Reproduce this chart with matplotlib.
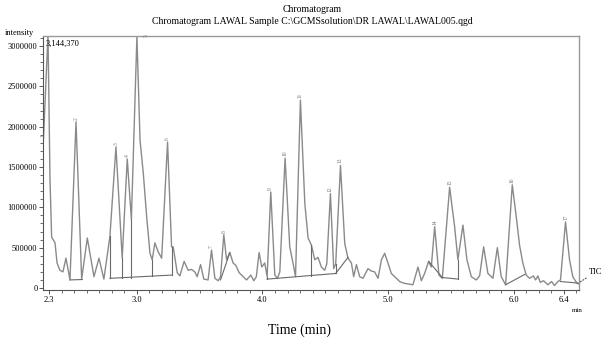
import matplotlib
matplotlib.use("Agg")
import matplotlib.pyplot as plt
from matplotlib.ticker import MultipleLocator, FixedLocator
import numpy as np

plt.rcParams['font.family'] = ['Liberation Serif', 'DejaVu Serif']

# TIC trace: retention time (min) and intensity
time_min = [2.256, 2.292, 2.308, 2.321, 2.348, 2.364, 2.387, 2.411, 2.435, 2.467,
            2.515, 2.560, 2.605, 2.658, 2.698, 2.737, 2.785, 2.833, 2.883, 2.923,
            2.956, 3.000, 3.025, 3.051, 3.078, 3.104, 3.122, 3.143, 3.169, 3.197,
            3.244, 3.276, 3.289, 3.321, 3.342, 3.376, 3.408, 3.435, 3.461, 3.480,
            3.507, 3.533, 3.567, 3.594, 3.621, 3.647, 3.666, 3.692, 3.714, 3.740,
            3.766, 3.788, 3.814, 3.846, 3.873, 3.907, 3.931, 3.951, 3.973, 3.994,
            4.018, 4.037, 4.066, 4.098, 4.119, 4.138, 4.180, 4.217, 4.243, 4.263,
            4.302, 4.337, 4.363, 4.390, 4.416, 4.442, 4.469, 4.496, 4.512, 4.541,
            4.567, 4.583, 4.621, 4.655, 4.681, 4.708, 4.726, 4.748, 4.774, 4.800,
            4.840, 4.867, 4.893, 4.920, 4.947, 4.973, 4.999, 5.026, 5.053, 5.092,
            5.124, 5.158, 5.198, 5.238, 5.265, 5.291, 5.323, 5.344, 5.371, 5.405,
            5.432, 5.490, 5.530, 5.556, 5.596, 5.628, 5.663, 5.702, 5.729, 5.761,
            5.795, 5.835, 5.870, 5.901, 5.936, 5.989, 6.021, 6.047, 6.073, 6.100,
            6.127, 6.158, 6.174, 6.193, 6.212, 6.238, 6.272, 6.302, 6.325, 6.352,
            6.373, 6.413, 6.445, 6.471, 6.503, 6.519]
intensity = [1850000, 3144370, 1340000, 630000, 560000, 310000, 220000, 200000, 370000, 100000,
             2060000, 110000, 620000, 140000, 370000, 110000, 640000, 1750000, 370000, 1600000,
             850000, 3120000, 1830000, 1420000, 880000, 430000, 350000, 560000, 450000, 370000,
             1810000, 510000, 510000, 190000, 150000, 330000, 220000, 230000, 200000, 140000,
             290000, 110000, 100000, 470000, 120000, 90000, 140000, 660000, 350000, 440000,
             310000, 280000, 190000, 140000, 100000, 160000, 90000, 140000, 440000, 260000,
             310000, 140000, 1190000, 160000, 120000, 200000, 1610000, 510000, 310000, 140000,
             2330000, 1050000, 620000, 530000, 350000, 380000, 260000, 220000, 300000, 1170000,
             240000, 300000, 1520000, 550000, 370000, 310000, 140000, 290000, 140000, 120000,
             240000, 210000, 200000, 120000, 350000, 430000, 310000, 180000, 140000, 80000,
             60000, 50000, 40000, 260000, 90000, 180000, 330000, 260000, 760000, 160000,
             120000, 1250000, 760000, 350000, 780000, 350000, 140000, 100000, 150000, 510000,
             180000, 120000, 500000, 140000, 40000, 1280000, 880000, 530000, 310000, 160000,
             120000, 150000, 100000, 150000, 70000, 90000, 40000, 80000, 30000, 80000,
             100000, 820000, 350000, 140000, 60000, 50000]

# Peak numbers and their apex positions
peak_ids = [str(i) for i in range(1, 18)]
peak_time = [2.256, 2.515, 2.833, 2.923, 3.000, 3.244, 3.594, 3.692, 4.066, 4.180,
             4.302, 4.541, 4.621, 5.371, 5.490, 5.989, 6.413]
peak_height = [1850000, 2060000, 1750000, 1600000, 3125000, 1810000, 470000, 660000, 1190000, 1610000,
               2330000, 1170000, 1520000, 760000, 1250000, 1280000, 820000]

# Integration baselines (start/end time, start/end intensity)
base_t0 = [2.467, 2.785, 3.666, 4.037, 4.583, 5.323, 5.432, 5.936, 6.373]
base_t1 = [2.565, 3.276, 3.740, 4.583, 4.681, 5.432, 5.560, 6.090, 6.519]
base_i0 = [100000, 120000, 100000, 110000, 180000, 330000, 130000, 40000, 80000]
base_i1 = [105000, 160000, 440000, 180000, 380000, 130000, 110000, 170000, 60000]

# Drop lines (time, top intensity, bottom intensity)
drop_t = [2.785, 2.883, 2.956, 3.117, 3.276, 4.037, 4.119, 4.263, 4.390, 4.583, 5.560]
drop_top = [640000, 370000, 850000, 350000, 510000, 140000, 120000, 140000, 530000, 300000, 350000]
drop_bot = [120000, 125000, 128000, 145000, 160000, 110000, 125000, 140000, 150000, 180000, 110000]

fig = plt.figure(figsize=(6.07, 3.45), dpi=100)
ax = fig.add_axes([0.0708, 0.1594, 0.8830, 0.7363])

trace_col = '#8a8a8a'
ax.plot(time_min, intensity, color=trace_col, lw=1.0, solid_joinstyle='round')
for t0, t1, i0, i1 in zip(base_t0, base_t1, base_i0, base_i1):
    ax.plot([t0, t1], [i0, i1], color='#6a6a6a', lw=0.8)
for t, a, b in zip(drop_t, drop_top, drop_bot):
    ax.plot([t, t], [b, a], color='#6a6a6a', lw=0.8)

for pid, t, h in zip(peak_ids, peak_time, peak_height):
    dx = 0.07 if pid == '5' else 0.0
    ax.text(t + dx, h + 25000, pid, rotation=90, fontsize=4, color='#777777',
            ha='center', va='bottom' if pid != '5' else 'top', clip_on=False)

ax.set_xlim(2.252, 6.52)
ax.set_ylim(-25000, 3125000)
ax.xaxis.set_major_locator(FixedLocator([2.3, 3.0, 4.0, 5.0, 6.0, 6.4]))
ax.xaxis.set_minor_locator(FixedLocator(np.arange(2.3, 6.51, 0.1)))
ax.yaxis.set_major_locator(MultipleLocator(500000))
ax.yaxis.set_minor_locator(MultipleLocator(100000))
ax.set_xticklabels(['2.3', '3.0', '4.0', '5.0', '6.0', '6.4'])
ax.set_yticklabels([f'{int(v)}' for v in ax.get_yticks()])
ax.tick_params(axis='both', which='major', labelsize=6, length=3, width=0.7, color='#555555', pad=1.5)
ax.tick_params(axis='both', which='minor', length=2, width=0.6, color='#555555')
ax.tick_params(axis='y', pad=1)
ax.yaxis.set_major_formatter(matplotlib.ticker.FuncFormatter(lambda v, p: f'{int(round(v))}'))
for s in ['top', 'right']:
    ax.spines[s].set_color('#999999')
    ax.spines[s].set_linewidth(1.0)
for s in ['left', 'bottom']:
    ax.spines[s].set_color('#555555')
    ax.spines[s].set_linewidth(0.8)

ax.text(0.005, 0.985, '3,144,370', transform=ax.transAxes, fontsize=6, ha='left', va='top')

fig.text(0.514, 0.972, 'Chromatogram', fontsize=7, ha='center', va='center')
fig.text(0.514, 0.938, 'Chromatogram LAWAL Sample C:\\GCMSsolution\\DR LAWAL\\LAWAL005.qgd',
         fontsize=7, ha='center', va='center')
fig.text(0.008, 0.905, 'intensity', fontsize=6, ha='left', va='center')
fig.text(0.942, 0.100, 'min', fontsize=5, ha='left', va='center')
fig.text(0.494, 0.043, 'Time (min)', fontsize=10, ha='center', va='center')

# TIC leader
ax.annotate('TIC', xy=(6.525, 70000), xytext=(6.60, 200000), fontsize=6,
            ha='left', va='center', annotation_clip=False,
            arrowprops=dict(arrowstyle='-', linestyle=':', color='#555555', lw=0.8,
                            shrinkA=0, shrinkB=0))

fig.savefig('out.png', dpi=100)
